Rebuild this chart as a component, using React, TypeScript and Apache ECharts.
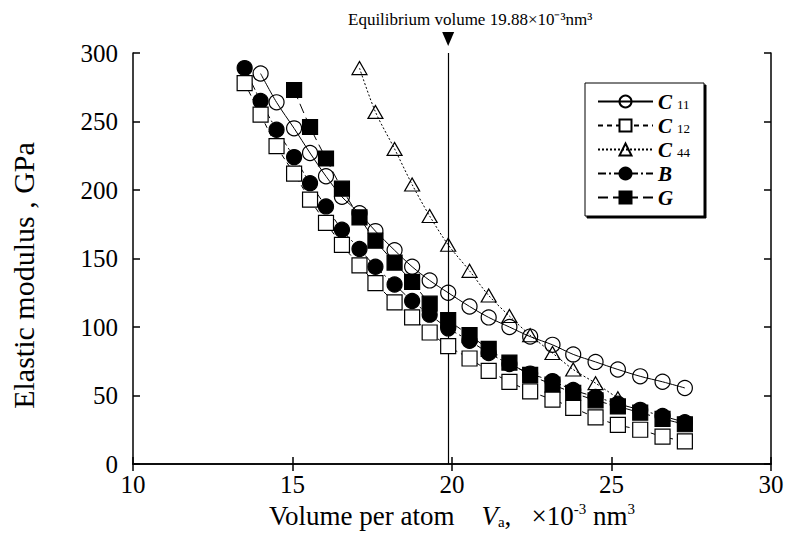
import React, { useEffect, useRef } from 'react';
import * as echarts from 'echarts';

const volume = [13.5, 14.0, 14.5, 15.05, 15.55, 16.05, 16.55, 17.1, 17.6, 18.2, 18.75, 19.3, 19.88, 20.55, 21.15, 21.8, 22.45, 23.15, 23.8, 24.5, 25.2, 25.9, 26.6, 27.3];
const c11 = [null, 285, 264, 245, 227, 210, 195, 183, 170, 156, 144, 134, 125, 115, 107, 100, 93, 87, 80, 74.5, 69, 64, 60, 55.5];
const c12 = [278, 255, 232, 212, 193, 176, 160, 145, 132, 118, 107, 96, 86, 77, 68, 60, 53, 47, 41, 34, 28.5, 25, 20, 16.5];
const c44 = [null, null, null, null, null, null, null, 289, 257, 230, 204, 181, 160, 141, 123, 108, 94, 81, 69, 59, 48, null, null, null];
const bulk = [289, 265, 244, 224, 205, 188, 171, 157, 144, 131, 119, 109, 99, 90, 81, 73, 66, 60.5, 54, 49, 44, 39.5, 35, 30.5];
const shear = [null, null, null, 273, 246, 223, 201, 180, 163, 147, 133, 117, 105, 94, 84, 74, 65, 58, 52, 46.5, 42, 37.5, 33, 29];

const equilibrium = 19.88;
const xTicks = { min: 10, max: 30, interval: 5 };
const yTicks = { min: 0, max: 300, interval: 50 };

const SERIF = '"Liberation Serif", "Times New Roman", serif';

function pairs(vals: (number | null)[]) {
  const out: [number, number][] = [];
  vals.forEach((v, i) => {
    if (v != null) out.push([volume[i], v]);
  });
  return out;
}

export default function App() {
  const ref = useRef<HTMLDivElement>(null);
  useEffect(() => {
    if (!ref.current) return;
    const chart = echarts.init(ref.current, undefined, { renderer: 'svg' });
    const axisCommon = {
      axisLine: { show: true, lineStyle: { color: '#000', width: 1.5 } },
      axisTick: { show: true, inside: true, length: 7, lineStyle: { color: '#000', width: 1.5 } },
      splitLine: { show: false },
    };
    const mk = (name: string, vals: (number | null)[], symbol: string, size: any, fill: string, dash: any, z: number) => ({
      name,
      type: 'line',
      data: pairs(vals),
      symbol,
      symbolSize: size,
      showAllSymbol: true,
      smooth: 0.3,
      z,
      lineStyle: { color: '#000', width: 1, type: dash },
      itemStyle: { color: fill, borderColor: '#000', borderWidth: 1.2 },
      emphasis: { disabled: true },
    });
    const series: any[] = [
      mk('C11', c11, 'circle', 15, 'rgba(255,255,255,0)', 'solid', 3),
      mk('C12', c12, 'rect', 15, '#fff', [5, 4], 5),
      mk('C44', c44, 'triangle', [15, 13], 'rgba(255,255,255,0)', [2, 2], 6),
      mk('B', bulk, 'circle', 15, '#000', [8, 3, 2, 3], 2),
      mk('G', shear, 'rect', 15, '#000', [10, 5], 2),
    ];
    series[0].markLine = {
      silent: true,
      symbol: ['none', 'none'],
      label: { show: false },
      lineStyle: { color: '#000', width: 1.2, type: 'solid' },
      data: [{ xAxis: equilibrium }],
    };
    series[0].markPoint = {
      silent: true,
      symbol: 'triangle',
      symbolRotate: 180,
      symbolSize: [12, 14],
      symbolOffset: [0, -14],
      itemStyle: { color: '#000', borderWidth: 0 },
      label: { show: false },
      data: [{ coord: [equilibrium, 300] }],
    };
    chart.setOption({
      animation: false,
      backgroundColor: '#fff',
      grid: { left: 132, right: 18, top: 53, bottom: 74 },
      xAxis: [
        {
          type: 'value', ...xTicks, position: 'bottom', ...axisCommon,
          axisLabel: { color: '#000', fontFamily: SERIF, fontSize: 25, margin: 8 },
          name: '{n|Volume per atom    }{v|V}{sub|a}{n|,   ×10}{sup|-3}{n| nm}{sup|3}',
          nameLocation: 'middle',
          nameGap: 36,
          nameTextStyle: {
            color: '#000',
            rich: {
              n: { fontFamily: SERIF, fontSize: 27, color: '#000' },
              v: { fontFamily: SERIF, fontSize: 27, fontStyle: 'italic', color: '#000' },
              sub: { fontFamily: SERIF, fontSize: 15, color: '#000', padding: [13, 0, 0, 0] },
              sup: { fontFamily: SERIF, fontSize: 15, color: '#000', padding: [0, 0, 13, 0] },
            },
          },
        },
        { type: 'value', ...xTicks, position: 'top', ...axisCommon, axisLabel: { show: false } },
      ],
      yAxis: [
        {
          type: 'value', ...yTicks, position: 'left', ...axisCommon,
          axisLabel: { color: '#000', fontFamily: SERIF, fontSize: 25, margin: 15 },
          name: 'Elastic modulus , GPa',
          nameLocation: 'middle',
          nameGap: 95,
          nameTextStyle: { color: '#000', fontFamily: SERIF, fontSize: 30, padding: [0, 34, 0, 0] },
        },
        { type: 'value', ...yTicks, position: 'right', ...axisCommon, axisLabel: { show: false } },
      ],
      legend: {
        data: ['C11', 'C12', 'C44', 'B', 'G'],
        orient: 'vertical',
        left: 585,
        top: 83,
        itemWidth: 55,
        itemHeight: 15,
        itemGap: 3,
        padding: [8, 14, 8, 12],
        backgroundColor: '#fff',
        borderColor: '#000',
        borderWidth: 1,
        shadowColor: '#000',
        shadowOffsetX: 2,
        shadowOffsetY: 2,
        shadowBlur: 0.01,
        selectedMode: false,
        formatter: (name: string) =>
          name.length > 1 ? `{c|${name[0]}}{s|${name.slice(1)}}` : `{c|${name}}`,
        textStyle: {
          color: '#000',
          rich: {
            c: { fontFamily: SERIF, fontSize: 21, fontStyle: 'italic', fontWeight: 'bold', color: '#000', lineHeight: 21 },
            s: { fontFamily: SERIF, fontSize: 13, color: '#000', padding: [6, 0, 0, 5], lineHeight: 15 },
          },
        },
      },
      graphic: [
        {
          type: 'text',
          left: 348,
          top: 11,
          style: {
            text: 'Equilibrium volume 19.88×10⁻³nm³',
            font: `17px ${SERIF}`,
            fill: '#000',
          },
        },
      ],
      series,
    });
    return () => chart.dispose();
  }, []);
  return <div ref={ref} style={{ width: 789, height: 538, position: 'absolute', left: 0, top: 0 }} />;
}
